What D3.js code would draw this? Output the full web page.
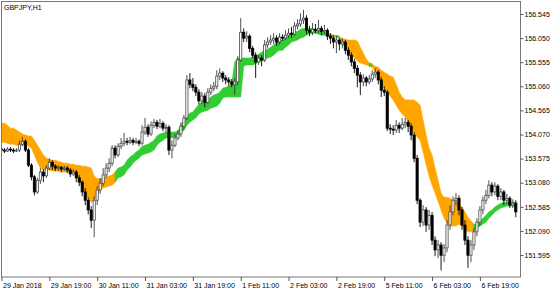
<!DOCTYPE html>
<html>
<head>
<meta charset="utf-8">
<script src="https://cdn.jsdelivr.net/npm/d3@7.9.0/dist/d3.min.js"></script>
<style>
  html, body { margin: 0; padding: 0; background: #fff; }
  svg { display: block; }
  text { font-family: "Liberation Sans", Arial, sans-serif; font-size: 7px; fill: #000; }
</style>
</head>
<body>
<svg id="chart" width="560" height="294"></svg>
<script>
// GBPJPY H1, 29 Jan 2018 - 6 Feb 2018
const title = 'GBPJPY,H1';

const opens = [
  153.77,153.75,153.73,153.77,153.75,153.73,153.75,153.87,153.93,153.75,
  153.44,153.20,152.89,153.13,153.30,153.22,153.38,153.50,153.42,153.38,
  153.40,153.36,153.38,153.34,153.26,153.30,153.18,153.09,152.89,152.72,
  152.52,152.31,152.72,152.93,153.07,153.24,153.38,153.48,153.79,153.65,
  153.83,153.89,153.93,153.91,153.95,153.91,153.93,153.89,154.12,154.22,
  154.08,154.26,154.32,154.24,154.30,154.20,154.22,153.75,153.85,154.00,
  154.08,154.24,154.41,155.19,155.10,155.04,154.94,154.76,154.86,154.73,
  154.94,155.02,155.06,155.27,155.33,155.23,155.19,155.15,155.10,155.15,
  155.60,156.17,156.05,156.09,155.84,155.70,155.56,155.64,155.60,155.91,
  155.97,156.01,156.05,155.97,156.07,156.05,156.11,156.15,156.13,156.30,
  156.34,156.42,156.46,156.21,156.17,156.23,156.21,156.25,156.19,156.21,
  156.09,156.05,155.97,156.01,155.93,155.97,155.80,155.70,155.56,155.43,
  155.29,155.15,155.23,155.15,155.21,155.31,155.35,155.19,154.98,154.94,
  154.20,154.18,154.16,154.26,154.20,154.28,154.32,154.24,154.06,153.58,
  152.72,152.27,152.52,152.21,152.41,151.90,151.70,151.80,151.59,151.74,
  152.21,152.48,152.72,152.76,152.52,152.21,151.90,151.59,151.80,152.07,
  152.27,152.52,152.72,152.82,153.03,152.89,153.01,152.80,152.89,152.72,
  152.76,152.62,152.66
];
const highs = [
  153.83,153.79,153.81,153.81,153.79,153.79,153.95,154.02,153.97,153.79,
  153.48,153.24,153.18,153.38,153.36,153.44,153.58,153.54,153.46,153.44,
  153.42,153.42,153.42,153.38,153.36,153.34,153.24,153.13,152.97,152.78,
  152.60,152.80,153.01,153.18,153.38,153.48,153.58,153.85,153.85,153.89,
  154.00,154.10,154.00,154.02,154.00,154.00,153.97,154.26,154.41,154.28,
  154.34,154.39,154.37,154.39,154.34,154.28,154.26,153.95,154.08,154.16,
  154.32,154.47,155.29,155.33,155.23,155.10,155.00,154.94,154.92,155.02,
  155.10,155.15,155.39,155.43,155.37,155.29,155.25,155.21,155.23,155.68,
  156.46,156.25,156.19,156.13,155.89,155.76,155.70,155.70,156.01,156.07,
  156.11,156.15,156.11,156.15,156.13,156.21,156.25,156.28,156.38,156.44,
  156.56,156.63,156.52,156.30,156.36,156.34,156.42,156.30,156.32,156.25,
  156.15,156.11,156.09,156.05,156.05,156.01,155.86,155.76,155.62,155.50,
  155.35,155.31,155.27,155.29,155.39,155.43,155.39,155.25,155.06,154.98,
  154.28,154.26,154.37,154.32,154.41,154.41,154.37,154.30,154.12,153.65,
  152.76,152.62,152.58,152.52,152.48,151.98,151.90,151.86,151.82,152.31,
  152.62,152.80,152.87,152.82,152.58,152.31,151.98,151.90,152.15,152.35,
  152.60,152.80,152.93,153.13,153.09,153.09,153.05,152.97,152.93,152.85,
  152.80,152.74,152.72
];
const lows = [
  153.71,153.69,153.71,153.71,153.69,153.71,153.71,153.83,153.71,153.40,
  153.13,152.82,152.85,153.05,153.09,153.18,153.34,153.34,153.32,153.32,
  153.30,153.32,153.28,153.20,153.22,153.09,153.01,152.80,152.62,152.43,
  152.15,151.96,152.62,152.85,153.01,153.18,153.30,153.42,153.58,153.61,
  153.77,153.83,153.85,153.87,153.85,153.87,153.83,153.85,154.06,154.02,
  154.04,154.20,154.18,154.20,154.14,154.12,153.65,153.58,153.81,153.95,
  154.02,154.16,154.37,155.02,154.96,154.86,154.69,154.69,154.63,154.69,
  154.88,154.96,155.00,155.19,155.15,155.10,155.06,155.04,154.88,155.08,
  155.56,155.97,155.97,155.76,155.64,155.23,155.50,155.47,155.56,155.84,
  155.91,155.93,155.89,155.91,155.99,156.01,156.05,156.05,156.09,156.23,
  156.28,156.34,156.13,156.09,156.11,156.15,156.15,156.11,156.13,156.01,
  155.93,155.84,155.74,155.80,155.84,155.72,155.60,155.47,155.33,155.04,
  154.88,155.06,155.06,155.10,155.15,155.23,155.10,154.84,154.86,154.14,
  154.08,154.06,154.10,154.10,154.16,154.20,154.12,153.95,153.50,152.64,
  152.17,152.19,152.07,152.11,151.80,151.57,151.53,151.28,151.45,151.65,
  152.11,152.41,152.62,152.41,152.11,151.80,151.33,151.45,151.70,151.98,
  152.19,152.43,152.64,152.76,152.80,152.82,152.72,152.72,152.62,152.64,
  152.56,152.56,152.37
];
const closes = [
  153.75,153.73,153.77,153.75,153.73,153.75,153.87,153.93,153.75,153.44,
  153.20,152.89,153.13,153.30,153.22,153.38,153.50,153.42,153.38,153.40,
  153.36,153.38,153.34,153.26,153.30,153.18,153.09,152.89,152.72,152.52,
  152.31,152.72,152.93,153.07,153.24,153.38,153.48,153.79,153.65,153.83,
  153.89,153.93,153.91,153.95,153.91,153.93,153.89,154.12,154.22,154.08,
  154.26,154.32,154.24,154.30,154.20,154.22,153.75,153.85,154.00,154.08,
  154.24,154.41,155.19,155.10,155.04,154.94,154.76,154.86,154.73,154.94,
  155.02,155.06,155.27,155.33,155.23,155.19,155.15,155.10,155.15,155.60,
  156.17,156.05,156.09,155.84,155.70,155.56,155.64,155.60,155.91,155.97,
  156.01,156.05,155.97,156.07,156.05,156.11,156.15,156.13,156.30,156.34,
  156.42,156.46,156.21,156.17,156.23,156.21,156.25,156.19,156.21,156.09,
  156.05,155.97,156.01,155.93,155.97,155.80,155.70,155.56,155.43,155.29,
  155.15,155.23,155.15,155.21,155.31,155.35,155.19,154.98,154.94,154.20,
  154.18,154.16,154.26,154.20,154.28,154.32,154.24,154.06,153.58,152.72,
  152.27,152.52,152.21,152.41,151.90,151.70,151.80,151.59,151.74,152.21,
  152.48,152.72,152.76,152.52,152.21,151.90,151.59,151.80,152.07,152.27,
  152.52,152.72,152.82,153.03,152.89,153.01,152.80,152.89,152.72,152.76,
  152.62,152.66,152.48
];

// indicator band: two buffers and the trend that picks the fill colour
const bandTop = [
  154.30,154.30,154.26,154.20,154.20,154.16,154.12,154.08,154.06,154.04,
  154.04,153.95,153.85,153.75,153.65,153.58,153.56,153.54,153.54,153.52,
  153.50,153.48,153.48,153.46,153.46,153.44,153.44,153.42,153.42,153.40,
  153.38,153.22,153.16,153.16,153.18,153.20,153.22,153.24,153.30,153.38,
  153.40,153.44,153.54,153.61,153.65,153.71,153.75,153.83,153.85,153.87,
  153.91,153.95,154.04,154.08,154.10,154.12,154.12,154.12,154.12,154.14,
  154.26,154.37,154.45,154.51,154.53,154.61,154.69,154.73,154.76,154.78,
  154.84,154.88,154.90,154.94,155.02,155.04,155.06,155.10,155.56,155.64,
  155.64,155.64,155.64,155.64,155.66,155.68,155.72,155.76,155.80,155.82,
  155.86,155.91,155.97,156.01,156.01,156.05,156.09,156.15,156.17,156.19,
  156.23,156.25,156.25,156.25,156.25,156.23,156.21,156.19,156.17,156.15,
  156.13,156.11,156.11,156.09,156.03,156.03,156.01,156.01,156.01,155.99,
  155.86,155.74,155.62,155.54,155.52,155.47,155.45,155.39,155.35,155.31,
  155.27,155.25,155.10,154.94,154.84,154.78,154.78,154.78,154.78,154.73,
  154.67,154.37,154.06,153.79,153.65,153.38,153.13,152.87,152.78,152.78,
  152.76,152.72,152.70,152.66,152.58,152.48,152.37,152.29,152.23,152.23,
  152.29,152.35,152.41,152.48,152.52,152.58,152.62,152.66,152.68,152.68,
  152.68,152.68,152.68
];
const bandBottom = [
  153.91,153.91,153.89,153.87,153.87,153.85,153.85,153.85,153.85,153.83,
  153.79,153.65,153.50,153.38,153.34,153.34,153.34,153.32,153.32,153.32,
  153.30,153.30,153.30,153.28,153.28,153.24,153.13,152.97,152.82,152.76,
  152.68,152.72,152.82,152.93,152.97,152.99,153.01,153.03,153.09,153.18,
  153.20,153.24,153.34,153.40,153.48,153.54,153.58,153.65,153.67,153.69,
  153.71,153.75,153.85,153.91,153.95,154.00,154.00,154.00,154.02,154.02,
  154.10,154.16,154.26,154.32,154.37,154.41,154.49,154.53,154.55,154.57,
  154.61,154.63,154.65,154.71,154.82,154.84,154.84,154.84,154.84,154.84,
  154.84,155.47,155.50,155.50,155.50,155.52,155.56,155.58,155.60,155.64,
  155.66,155.70,155.76,155.80,155.80,155.86,155.91,155.97,155.99,156.01,
  156.05,156.07,156.11,156.13,156.15,156.15,156.13,156.11,156.11,156.09,
  156.09,156.07,156.07,156.05,155.93,155.86,155.78,155.70,155.64,155.58,
  155.54,155.52,155.50,155.47,155.45,155.35,155.27,155.08,155.02,154.94,
  154.86,154.78,154.67,154.57,154.49,154.43,154.32,154.20,154.10,154.02,
  153.95,153.71,153.46,153.22,153.03,152.87,152.70,152.52,152.35,152.25,
  152.19,152.19,152.19,152.23,152.19,152.11,152.07,152.07,152.07,152.15,
  152.19,152.23,152.27,152.35,152.41,152.48,152.52,152.56,152.58,152.60,
  152.60,152.60,152.60
];
const trend = [
  -1,-1,-1,-1,-1,-1,-1,-1,-1,-1,
  -1,-1,-1,-1,-1,-1,-1,-1,-1,-1,
  -1,-1,-1,-1,-1,-1,-1,-1,-1,-1,
  -1,-1,-1,-1,-1,-1,-1,-1,-1, 1,
   1, 1, 1, 1, 1, 1, 1, 1, 1, 1,
   1, 1, 1, 1, 1, 1, 1, 1, 1, 1,
   1, 1, 1, 1, 1, 1, 1, 1, 1, 1,
   1, 1, 1, 1, 1, 1, 1, 1, 1, 1,
   1, 1, 1, 1, 1, 1, 1, 1, 1, 1,
   1, 1, 1, 1, 1, 1, 1, 1, 1, 1,
   1, 1, 1, 1, 1, 1, 1, 1, 1, 1,
  -1, 1,-1, 1,-1,-1,-1,-1,-1,-1,
  -1,-1,-1,-1, 1,-1,-1,-1,-1,-1,
  -1,-1,-1,-1,-1,-1,-1,-1,-1,-1,
  -1,-1,-1,-1,-1,-1,-1,-1,-1,-1,
  -1,-1,-1,-1,-1,-1,-1,-1,-1, 1,
   1, 1, 1, 1, 1, 1, 1, 1, 1, 1,
   1, 1, 1
];

const priceTicks = [156.545, 156.050, 155.555, 155.060, 154.565, 154.070,
                    153.575, 153.080, 152.585, 152.090, 151.595];
const timeTicks = ['29 Jan 2018', '29 Jan 19:00', '30 Jan 11:00', '31 Jan 03:00',
                   '31 Jan 19:00', '1 Feb 11:00', '2 Feb 03:00', '2 Feb 19:00',
                   '5 Feb 11:00', '6 Feb 03:00', '6 Feb 19:00'];
const barsPerTick = 16;

const upColor = '#32cd32';
const downColor = '#ffa500';

const svg = d3.select('#chart');
const plotLeft = 2, plotTop = 2, plotRight = 520.5, plotBottom = 277;

const x = d3.scaleLinear().domain([0, closes.length - 1]).range([1.5, 515.8]);
const y = d3.scaleLinear().domain([151.595, 156.545]).range([255, 14]);

svg.append('defs').append('clipPath').attr('id', 'plot')
  .append('rect').attr('x', plotLeft).attr('y', plotTop)
  .attr('width', plotRight - plotLeft).attr('height', plotBottom - plotTop);

const plot = svg.append('g').attr('clip-path', 'url(#plot)');

// band fill, split into runs of one colour
let runs = [];
for (let i = 1; i < trend.length; i++) {
  let last = runs[runs.length - 1];
  if (last && last.t === trend[i]) last.end = i;
  else runs.push({ t: trend[i], start: i - 1, end: i });
}
let area = d3.area()
  .x((i) => x(i))
  .y0((i) => y(bandBottom[i]))
  .y1((i) => y(bandTop[i]));
runs.forEach((r) => {
  plot.append('path')
    .attr('d', area(d3.range(r.start, r.end + 1)))
    .attr('fill', r.t > 0 ? upColor : downColor)
    .attr('stroke', r.t > 0 ? upColor : downColor)
    .attr('stroke-width', 0.6);
});

// candles
const bars = d3.range(closes.length);
const bw = 2.2;
const isUp = (i) => closes[i] >= opens[i];
plot.selectAll('line.wick').data(bars).join('line')
  .attr('class', 'wick')
  .attr('x1', (i) => x(i)).attr('x2', (i) => x(i))
  .attr('y1', (i) => y(highs[i])).attr('y2', (i) => y(lows[i]))
  .attr('stroke', (i) => isUp(i) ? '#3c3c3c' : '#000')
  .attr('stroke-width', 0.9);
plot.selectAll('rect.body').data(bars).join('rect')
  .attr('class', 'body')
  .attr('x', (i) => x(i) - bw / 2)
  .attr('width', bw)
  .attr('y', (i) => y(Math.max(opens[i], closes[i])))
  .attr('height', (i) => Math.max(0.8, Math.abs(y(opens[i]) - y(closes[i]))))
  .attr('fill', (i) => isUp(i) ? '#fff' : '#000')
  .attr('stroke', (i) => isUp(i) ? '#4a4a4a' : '#000')
  .attr('stroke-width', 0.8);

// frame
svg.append('rect')
  .attr('x', plotLeft - 0.5).attr('y', plotTop - 0.5)
  .attr('width', plotRight - plotLeft + 0.5).attr('height', plotBottom - plotTop + 0.5)
  .attr('fill', 'none').attr('stroke', '#777').attr('stroke-width', 1);

// price axis
const yAxis = svg.append('g')
  .attr('transform', `translate(${plotRight},0)`)
  .call(d3.axisRight(y).tickValues(priceTicks).tickFormat(d3.format('.3f')).tickSize(3).tickPadding(1));
yAxis.select('.domain').remove();
yAxis.selectAll('.tick line').attr('stroke', '#555');
yAxis.selectAll('text').attr('fill', '#222');

// time axis
const tickIdx = timeTicks.map((t, k) => k * barsPerTick);
const xAxis = svg.append('g')
  .attr('transform', `translate(0,${plotBottom})`)
  .call(d3.axisBottom(x).tickValues(tickIdx).tickFormat((d, k) => timeTicks[k]).tickSize(4));
xAxis.select('.domain').remove();
xAxis.selectAll('.tick line').attr('stroke', '#555');
xAxis.selectAll('text')
  .attr('text-anchor', 'start')
  .attr('x', 1).attr('y', 6)
  .attr('fill', '#222');

svg.append('text').attr('x', 4).attr('y', 9.5).text(title);
</script>
</body>
</html>
